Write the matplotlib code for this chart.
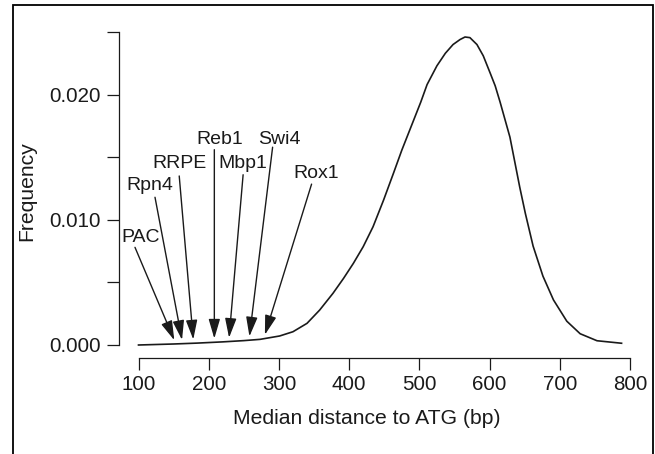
import numpy as np
import matplotlib.pyplot as plt
from matplotlib.patches import Rectangle
from matplotlib.ticker import FixedLocator

plt.rcParams['font.family'] = ['Liberation Sans', 'DejaVu Sans']

# Density curve
distancia = np.array([100, 150, 183, 220, 250, 273, 301, 320, 340, 358, 377, 392,
                      406, 420, 434, 449, 463, 475, 502, 511, 525, 537, 548, 558,
                      565, 572, 582, 591, 601, 608, 615, 629, 643, 651, 662, 676,
                      691, 710, 729, 753, 788])
frecuencia = np.array([0.0, 0.00008, 0.00015, 0.00025, 0.00035, 0.00045, 0.00072,
                       0.00106, 0.00173, 0.00279, 0.00413, 0.00532, 0.00652, 0.00785,
                       0.00944, 0.01157, 0.0137, 0.01556, 0.0194, 0.0208, 0.0223,
                       0.0233, 0.0240, 0.0244, 0.0246, 0.02455, 0.0240, 0.0231,
                       0.0217, 0.0207, 0.0194, 0.0166, 0.0126, 0.0105, 0.0079,
                       0.0055, 0.0036, 0.0019, 0.0009, 0.00034, 0.00014])

# Motifs and their median distance to ATG
motivos = ["PAC", "Rpn4", "RRPE", "Reb1", "Mbp1", "Swi4", "Rox1"]
dist_motivos = [151, 162, 178, 208, 229, 258, 280]

# label placement (x, baseline y) and arrow tail position
pos_texto = [(103, 0.00824), (116, 0.01237), (158, 0.0141), (216, 0.01604),
             (248, 0.0141), (301, 0.01604), (353, 0.0133)]
pos_cola = [(95, 0.0078), (123.5, 0.0118), (158, 0.0135), (208, 0.0156),
            (249, 0.0136), (291, 0.0158), (346.5, 0.01285)]

fig = plt.figure(figsize=(6.55, 4.54), dpi=100)
ax = fig.add_axes([138.5 / 655, 109 / 454, 491.5 / 655, 313 / 454])

ax.plot(distancia, frecuencia, color="#1a1a1a", lw=1.2, clip_on=False,
        solid_joinstyle="round")

for nombre, d, txt, cola in zip(motivos, dist_motivos, pos_texto, pos_cola):
    punta_y = np.interp(d, distancia, frecuencia) + 0.0003
    ax.annotate("", xy=(d, punta_y), xytext=cola,
                arrowprops=dict(arrowstyle="-|>,head_length=0.85,head_width=0.25",
                                mutation_scale=14, lw=1.0, color="#1a1a1a",
                                shrinkA=0, shrinkB=0),
                annotation_clip=False)
    ax.text(txt[0], txt[1], nombre, ha="center", va="baseline", fontsize=14,
            color="#1a1a1a")

ax.set_xlim(100, 800)
ax.set_ylim(0, 0.025)

for lado in ["top", "right"]:
    ax.spines[lado].set_visible(False)
ax.spines["left"].set_position(("outward", 14.4))
ax.spines["bottom"].set_position(("outward", 9.4))
ax.spines["left"].set_bounds(0, 0.025)
ax.spines["bottom"].set_bounds(100, 800)
for lado in ["left", "bottom"]:
    ax.spines[lado].set_linewidth(0.9)
    ax.spines[lado].set_color("#1a1a1a")

ax.set_xticks(np.arange(100, 801, 100))
ax.set_yticks([0, 0.01, 0.02])
ax.set_yticklabels(["0.000", "0.010", "0.020"])
ax.yaxis.set_minor_locator(FixedLocator([0.005, 0.015, 0.025]))
ax.tick_params(axis="both", which="both", length=8.5, width=0.9, color="#1a1a1a",
               labelsize=14.8, labelcolor="#1a1a1a")
ax.tick_params(axis="x", pad=4)
ax.tick_params(axis="y", pad=4)

fig.text(367 / 655, 1 - 418 / 454, "Median distance to ATG (bp)", ha="center",
         va="center", fontsize=15.2, color="#1a1a1a")
fig.text(27 / 655, 1 - 191 / 454, "Frequency", ha="center", va="center",
         rotation=90, fontsize=15.2, color="#1a1a1a")

# frame around the panel
fig.patches.append(Rectangle((13 / 655, -0.1), (653 - 13) / 655, 1.1 - 5 / 454,
                             transform=fig.transFigure, fill=False,
                             edgecolor="black", lw=1.3))

fig.savefig("out.png", dpi=100)
